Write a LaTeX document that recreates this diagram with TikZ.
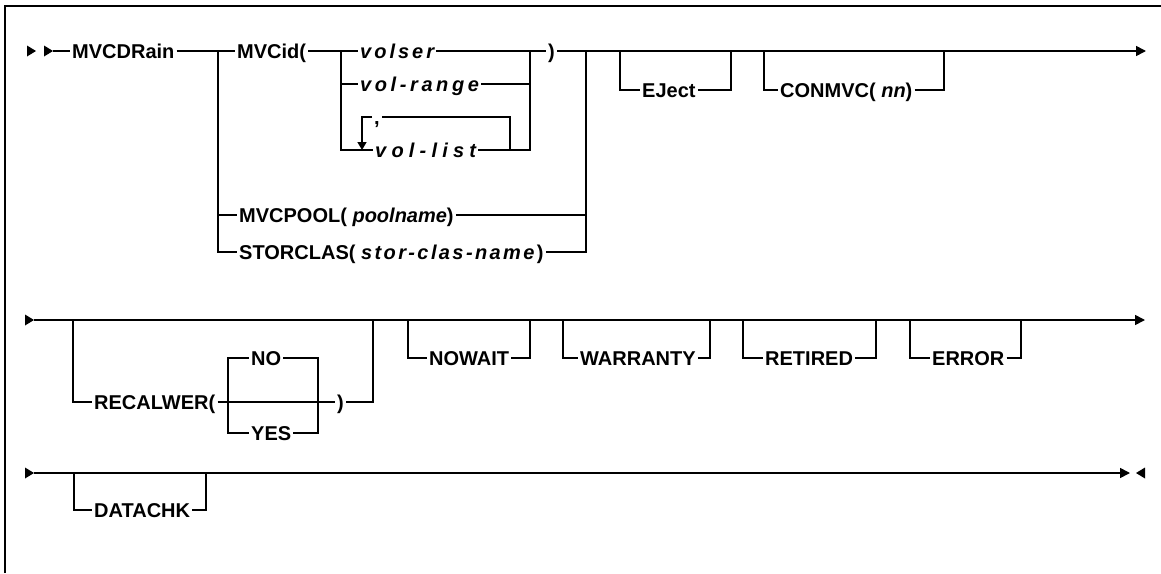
\documentclass[tikz,border=0pt]{standalone}
\usepackage{fontspec}
\setmainfont{Liberation Sans}
\usetikzlibrary{arrows.meta}
\newcommand{\lsp}[2]{{\addfontfeatures{LetterSpace=#1}#2}}
\tikzset{
  rr/.style={line width=1.6pt},
  kw/.style={font=\fontsize{20}{24}\selectfont\bfseries, inner xsep=2pt, inner ysep=0pt,
             text height=14.3pt, text depth=0pt, anchor=west},
  var/.style={kw, font=\fontsize{20}{24}\selectfont\bfseries\itshape},
  endarrow/.style={-{Triangle[length=10pt,width=10pt]}},
  downarrow/.style={-{Triangle[length=8pt,width=9pt]}},
}
\begin{document}
\begin{tikzpicture}[x=1pt,y=-1pt]
\useasboundingbox (0,0) rectangle (1161,573);
% frame
\draw[line width=2pt] (5,573) -- (5,6) -- (1161,6);

% ---------------- Row 1 ----------------
\fill (27,45.5) -- (36,51) -- (27,56.5) -- cycle;
\fill (44,45.5) -- (53,51) -- (44,56.5) -- cycle;
\coordinate (s1) at (53,51);
\node[kw] (mvcdrain) at (70,51) {MVCDRain};
\coordinate (A) at (218,51);
\node[kw] (mvcid) at (235,51) {MVCid(};
\coordinate (B) at (341,51);
\node[var] (volser) at (358,51) {\lsp{15}{volser}};
\node[var] (volrange) at (358,84) {\lsp{18}{vol-range}};
\node[var] (vollist) at (373,150) {\lsp{26}{vol-list}};
\node[kw] (comma) at (372,117) {,};
\coordinate (L1) at (362,150);
\coordinate (L2) at (362,117);
\coordinate (L3) at (510,117);
\coordinate (L4) at (510,150);
\coordinate (C) at (530,51);
\node[kw] (rp1) at (546,51) {)};
\coordinate (D) at (586,51);
\node[kw] (mvcpool) at (237,215) {MVCPOOL( \textit{poolname})};
\node[kw] (storclas) at (237,252) {STORCLAS( \textit{\lsp{12}{stor-clas-name}})};
\coordinate (E1) at (620,51);
\coordinate (E2) at (731,51);
\node[kw] (eject) at (640,90) {EJect};
\coordinate (F1) at (764,51);
\coordinate (F2) at (944,51);
\node[kw] (conmvc) at (778,90) {CONMVC( \textit{nn})};
\coordinate (end1) at (1146,51);

\draw[rr] (s1) -- (mvcdrain.west);
\draw[rr] (mvcdrain.east) -- (mvcid.west);
\draw[rr] (mvcid.east) -- (volser.west);
\draw[rr] (volser.east) -- (rp1.west);
\draw[rr,endarrow] (rp1.east) -- (end1);
\draw[rr] (A) |- (mvcpool.west);
\draw[rr] (A) |- (storclas.west);
\draw[rr] (mvcpool.east) -| (D);
\draw[rr] (storclas.east) -| (D);
\draw[rr] (B) |- (volrange.west);
\draw[rr] (volrange.east) -| (C);
\draw[rr] (B) |- (vollist.west);
\draw[rr] (vollist.east) -| (C);
\draw[rr] (L4) -- (L3) -- (comma.east);
\draw[rr,downarrow] (comma.west) -- (L2) -- (L1);
\draw[rr] (E1) |- (eject.west);
\draw[rr] (eject.east) -| (E2);
\draw[rr] (F1) |- (conmvc.west);
\draw[rr] (conmvc.east) -| (F2);

% ---------------- Row 2 ----------------
\fill (25,314.5) -- (34,320) -- (25,325.5) -- cycle;
\coordinate (s2) at (34,320);
\coordinate (end2) at (1145,320);
\draw[rr,endarrow] (s2) -- (end2);
\coordinate (R1) at (73,320);
\coordinate (R2) at (373,320);
\node[kw] (recalwer) at (92,402) {RECALWER(};
\coordinate (I1) at (228,402);
\coordinate (I2) at (318,402);
\node[kw] (no) at (249,358) {NO};
\node[kw] (yes) at (249,433) {YES};
\node[kw] (rp2) at (335,402) {)};
\draw[rr] (R1) |- (recalwer.west);
\draw[rr] (recalwer.east) -- (rp2.west);
\draw[rr] (I1) |- (no.west);
\draw[rr] (no.east) -| (I2);
\draw[rr] (I1) |- (yes.west);
\draw[rr] (yes.east) -| (I2);
\draw[rr] (rp2.east) -| (R2);

\coordinate (N1) at (408,320);
\coordinate (N2) at (530,320);
\node[kw] (nowait) at (427,358) {NOWAIT};
\draw[rr] (N1) |- (nowait.west);
\draw[rr] (nowait.east) -| (N2);

\coordinate (W1) at (563,320);
\coordinate (W2) at (710,320);
\node[kw] (warranty) at (578,358) {WARRANTY};
\draw[rr] (W1) |- (warranty.west);
\draw[rr] (warranty.east) -| (W2);

\coordinate (T1) at (743,320);
\coordinate (T2) at (876,320);
\node[kw] (retired) at (763,358) {RETIRED};
\draw[rr] (T1) |- (retired.west);
\draw[rr] (retired.east) -| (T2);

\coordinate (X1) at (910,320);
\coordinate (X2) at (1021,320);
\node[kw] (error) at (930,358) {ERROR};
\draw[rr] (X1) |- (error.west);
\draw[rr] (error.east) -| (X2);

% ---------------- Row 3 ----------------
\fill (25,467.5) -- (34,473) -- (25,478.5) -- cycle;
\coordinate (s3) at (34,473);
\coordinate (end3) at (1130,473);
\draw[rr,endarrow] (s3) -- (end3);
\fill (1145,467.5) -- (1136,473) -- (1145,478.5) -- cycle;
\coordinate (K1) at (74,473);
\coordinate (K2) at (206,473);
\node[kw] (datachk) at (92,510) {DATACHK};
\draw[rr] (K1) |- (datachk.west);
\draw[rr] (datachk.east) -| (K2);
\end{tikzpicture}
\end{document}
